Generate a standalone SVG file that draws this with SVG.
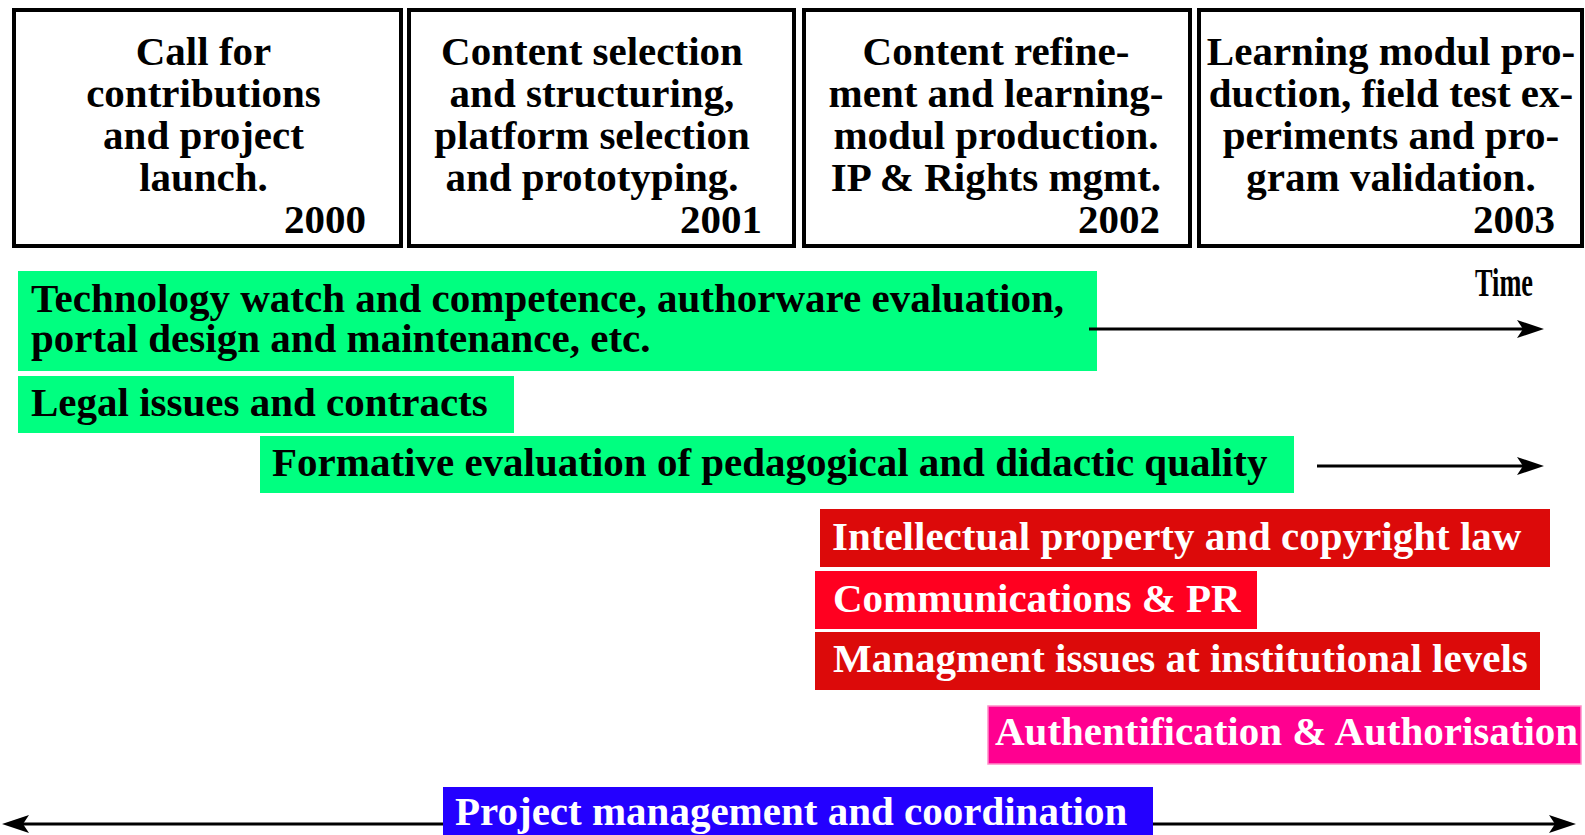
<svg xmlns="http://www.w3.org/2000/svg" width="1585" height="835" viewBox="0 0 1585 835">
  <style>
    text { font-family: "Liberation Serif", "Times New Roman", serif; font-weight: bold; font-size: 41px; }
    .phase { fill: #ffffff; stroke: #000000; stroke-width: 4; }
    .ph { fill: #000000; text-anchor: middle; }
    .yr { fill: #000000; text-anchor: end; }
    .dark { fill: #000000; }
    .light { fill: #ffffff; }
    .green { fill: #00ff80; }
    .red { fill: #dc0a0a; }
    .red2 { fill: #ff0020; }
    .pink { fill: #ff0090; stroke: #ff8cc8; stroke-width: 1.5; }
    .blue { fill: #2400ff; }
    .conn { stroke: #000000; stroke-width: 3; fill: none; marker-end: url(#arrow); }
  </style>
  <defs>
    <marker id="arrow" viewBox="0 0 28 20" refX="21" refY="10" markerWidth="28" markerHeight="20" markerUnits="userSpaceOnUse" orient="auto">
      <path d="M27,10 L0,1 L6,10 L0,19 Z" fill="#000000"/>
    </marker>
  </defs>
  <rect width="1585" height="835" fill="#ffffff"/>

  <g id="phase2000">
    <rect class="phase" x="14" y="10" width="387" height="236"/>
    <text class="ph" x="203.5" y="65">Call for</text>
    <text class="ph" x="203.5" y="107">contributions</text>
    <text class="ph" x="203.5" y="149">and project</text>
    <text class="ph" x="203.5" y="191">launch.</text>
    <text class="yr" x="366" y="233">2000</text>
  </g>
  <g id="phase2001">
    <rect class="phase" x="409" y="10" width="385" height="236"/>
    <text class="ph" x="592" y="65">Content selection</text>
    <text class="ph" x="592" y="107">and structuring,</text>
    <text class="ph" x="592" y="149">platform selection</text>
    <text class="ph" x="592" y="191">and prototyping.</text>
    <text class="yr" x="762" y="233">2001</text>
  </g>
  <g id="phase2002">
    <rect class="phase" x="804" y="10" width="386" height="236"/>
    <text class="ph" x="996" y="65">Content refine-</text>
    <text class="ph" x="996" y="107">ment and learning-</text>
    <text class="ph" x="996" y="149">modul production.</text>
    <text class="ph" x="996" y="191">IP &amp; Rights mgmt.</text>
    <text class="yr" x="1160" y="233">2002</text>
  </g>
  <g id="phase2003">
    <rect class="phase" x="1199" y="10" width="383" height="236"/>
    <text class="ph" x="1391" y="65">Learning modul pro-</text>
    <text class="ph" x="1391" y="107">duction, field test ex-</text>
    <text class="ph" x="1391" y="149">periments and pro-</text>
    <text class="ph" x="1391" y="191">gram validation.</text>
    <text class="yr" x="1555" y="233">2003</text>
  </g>

  <g id="time-label">
    <text class="dark" x="1475" y="296" textLength="58" lengthAdjust="spacingAndGlyphs">Time</text>
  </g>

  <g id="technology">
    <rect class="green" x="18" y="271" width="1079" height="100"/>
    <text class="dark" x="31" y="312">Technology watch and competence, authorware evaluation,</text>
    <text class="dark" x="31" y="352">portal design and maintenance, etc.</text>
  </g>
  <g id="legal">
    <rect class="green" x="18" y="376" width="496" height="57"/>
    <text class="dark" x="31" y="416">Legal issues and contracts</text>
  </g>
  <g id="formative">
    <rect class="green" x="260" y="436" width="1034" height="57"/>
    <text class="dark" x="272" y="476">Formative evaluation of pedagogical and didactic quality</text>
  </g>
  <g id="ip">
    <rect class="red" x="820" y="509" width="730" height="58"/>
    <text class="light" x="832" y="550">Intellectual property and copyright law</text>
  </g>
  <g id="communications">
    <rect class="red2" x="815" y="571" width="442" height="58"/>
    <text class="light" x="833" y="612">Communications &amp; PR</text>
  </g>
  <g id="management">
    <rect class="red" x="815" y="632" width="725" height="58"/>
    <text class="light" x="833" y="672">Managment issues at institutional levels</text>
  </g>
  <g id="auth">
    <rect class="pink" x="988" y="706" width="593" height="58"/>
    <text class="light" x="995" y="745">Authentification &amp; Authorisation</text>
  </g>
  <g id="project">
    <rect class="blue" x="443" y="787" width="710" height="50"/>
    <text class="light" x="455" y="825">Project management and coordination</text>
  </g>

  <g id="connectors">
    <line class="conn" x1="1089" y1="329" x2="1538" y2="329"/>
    <line class="conn" x1="1317" y1="466" x2="1538" y2="466"/>
    <line class="conn" x1="443" y1="824" x2="8" y2="824"/>
    <line class="conn" x1="1153" y1="824" x2="1570" y2="824"/>
  </g>
</svg>
